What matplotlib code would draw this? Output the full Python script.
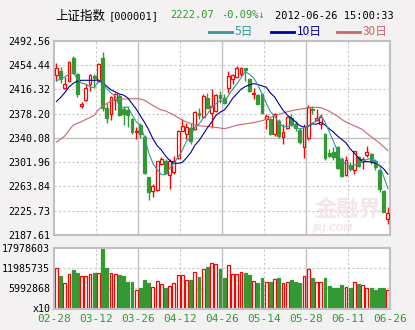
"""上证指数 daily K-line with 5/10/30 day averages and volume"""

import matplotlib
matplotlib.use("Agg")
import matplotlib.pyplot as plt
from matplotlib.patches import Rectangle

plt.rcParams["font.family"] = ["DejaVu Sans Mono", "Noto Sans CJK SC"]

dates = [
    "02-28", "02-29", "03-01", "03-02", "03-05", "03-06", "03-07", "03-08", "03-09", "03-12",
    "03-13", "03-14", "03-15", "03-16", "03-19", "03-20", "03-21", "03-22", "03-23", "03-26",
    "03-27", "03-28", "03-29", "03-30", "04-05", "04-06", "04-09", "04-10", "04-11", "04-12",
    "04-13", "04-16", "04-17", "04-18", "04-19", "04-20", "04-23", "04-24", "04-25", "04-26",
    "04-27", "05-02", "05-03", "05-04", "05-07", "05-08", "05-09", "05-10", "05-11", "05-14",
    "05-15", "05-16", "05-17", "05-18", "05-21", "05-22", "05-23", "05-24", "05-25", "05-28",
    "05-29", "05-30", "05-31", "06-01", "06-04", "06-05", "06-06", "06-07", "06-08", "06-11",
    "06-12", "06-13", "06-14", "06-15", "06-18", "06-19", "06-20", "06-21", "06-25", "06-26",
]

opens = [
    2438.8, 2445.0, 2417.9, 2429.4, 2464.9, 2439.8, 2390.2, 2399.1, 2424.2, 2437.2,
    2429.4, 2464.9, 2387.6, 2378.2, 2399.1, 2405.9, 2385.0, 2384.0, 2369.4, 2348.5,
    2360.5, 2341.7, 2278.0, 2256.1, 2258.2, 2298.9, 2303.0, 2282.2, 2285.8, 2308.3,
    2351.1, 2345.9, 2356.3, 2353.7, 2379.8, 2373.0, 2403.3, 2379.8, 2382.4, 2407.4,
    2402.2, 2418.9, 2432.0, 2435.6, 2440.9, 2449.2, 2432.0, 2408.5, 2407.4, 2408.5,
    2369.4, 2369.4, 2345.9, 2366.8, 2342.2, 2355.2, 2370.9, 2362.6, 2352.1, 2326.0,
    2340.0, 2386.1, 2368.0, 2362.0, 2346.9, 2315.6, 2317.2, 2325.0, 2306.7, 2282.2,
    2297.8, 2289.5, 2309.3, 2303.0, 2313.5, 2314.5, 2303.0, 2289.5, 2256.0, 2213.0,
]
highs = [
    2458.1, 2451.3, 2435.6, 2460.2, 2468.5, 2442.4, 2397.0, 2424.2, 2439.8, 2439.8,
    2458.1, 2475.3, 2395.4, 2405.9, 2411.1, 2409.5, 2390.2, 2390.2, 2372.0, 2357.3,
    2364.1, 2344.8, 2279.0, 2267.6, 2304.1, 2310.4, 2306.7, 2306.7, 2311.9, 2352.1,
    2369.4, 2364.1, 2364.1, 2382.4, 2387.6, 2408.5, 2411.1, 2416.3, 2409.5, 2413.7,
    2408.5, 2445.0, 2440.9, 2452.9, 2451.3, 2450.3, 2434.6, 2418.9, 2409.5, 2411.1,
    2377.2, 2371.0, 2379.8, 2369.4, 2361.5, 2374.6, 2377.2, 2366.8, 2356.3, 2362.6,
    2391.2, 2390.2, 2385.0, 2378.0, 2348.0, 2322.4, 2325.0, 2327.6, 2309.3, 2311.9,
    2301.5, 2319.8, 2311.0, 2309.3, 2327.6, 2316.0, 2306.7, 2291.0, 2258.0, 2232.1,
]
lows = [
    2429.4, 2426.8, 2416.3, 2428.3, 2439.8, 2404.3, 2386.6, 2398.1, 2413.7, 2417.9,
    2428.3, 2382.4, 2364.1, 2367.8, 2383.4, 2374.6, 2360.5, 2357.3, 2346.9, 2338.0,
    2340.6, 2283.2, 2242.5, 2247.7, 2257.1, 2297.8, 2283.2, 2259.7, 2284.0, 2306.7,
    2350.2, 2338.0, 2330.2, 2352.1, 2369.4, 2372.0, 2386.6, 2356.3, 2381.4, 2395.4,
    2393.9, 2411.1, 2425.2, 2434.6, 2437.2, 2429.4, 2412.6, 2400.7, 2392.8, 2378.2,
    2353.7, 2344.8, 2343.2, 2340.6, 2330.2, 2353.7, 2358.9, 2351.1, 2331.2, 2308.3,
    2336.0, 2377.2, 2366.0, 2354.0, 2306.0, 2309.3, 2305.0, 2291.0, 2278.0, 2280.6,
    2288.0, 2283.2, 2294.0, 2291.0, 2309.3, 2299.0, 2290.0, 2254.5, 2223.0, 2205.0,
]
closes = [
    2449.2, 2433.0, 2425.2, 2459.1, 2442.4, 2408.5, 2393.9, 2418.9, 2438.8, 2433.6,
    2455.5, 2387.6, 2372.0, 2404.3, 2408.5, 2375.6, 2377.2, 2376.1, 2348.5, 2351.1,
    2345.9, 2284.3, 2254.5, 2263.9, 2303.0, 2306.7, 2284.3, 2304.1, 2303.0, 2351.1,
    2358.9, 2357.3, 2335.4, 2381.4, 2376.1, 2405.9, 2387.6, 2390.2, 2407.4, 2402.2,
    2395.4, 2437.2, 2438.8, 2450.3, 2449.2, 2447.1, 2413.7, 2411.1, 2393.9, 2379.8,
    2374.6, 2345.9, 2377.2, 2343.2, 2348.5, 2373.0, 2361.5, 2355.2, 2332.8, 2357.0,
    2388.0, 2383.4, 2372.0, 2373.4, 2308.6, 2312.0, 2309.3, 2292.6, 2280.6, 2305.2,
    2291.0, 2318.7, 2296.3, 2306.7, 2317.2, 2301.5, 2293.7, 2260.0, 2224.1, 2222.07,
]
volumes = [
    12020000, 9730000, 7550000, 10230000, 11520000, 10630000, 9630000, 9630000, 10230000, 10630000,
    10530000, 17978603, 12120000, 10530000, 10230000, 10030000, 9730000, 7950000, 7950000, 5460000,
    6160000, 8540000, 7650000, 6360000, 8150000, 7250000, 6160000, 6660000, 7550000, 9930000,
    9930000, 8440000, 8540000, 10830000, 9440000, 11820000, 12420000, 13510000, 13210000, 11820000,
    9140000, 12910000, 10230000, 10230000, 10830000, 10630000, 10030000, 8150000, 7650000, 9140000,
    7950000, 7950000, 8740000, 9140000, 7550000, 7850000, 8540000, 7950000, 7650000, 9630000,
    11720000, 9140000, 7850000, 7850000, 9140000, 6750000, 6160000, 6160000, 7050000, 6360000,
    6160000, 7850000, 7350000, 6950000, 6060000, 6160000, 5560000, 6160000, 6160000, 5460000,
]
ma5 = [
    2429.5, 2432.5, 2435.5, 2440.5, 2441.8, 2433.6, 2425.8, 2424.6, 2420.5, 2418.7,
    2428.1, 2426.9, 2417.5, 2410.6, 2405.6, 2389.6, 2387.5, 2388.3, 2377.2, 2365.7,
    2359.8, 2341.2, 2316.9, 2299.9, 2290.3, 2282.5, 2282.5, 2292.4, 2300.2, 2309.8,
    2320.3, 2334.9, 2341.1, 2356.8, 2361.8, 2371.2, 2377.3, 2388.2, 2393.4, 2398.7,
    2396.6, 2406.5, 2416.2, 2424.8, 2434.2, 2444.5, 2439.8, 2434.3, 2423.0, 2409.1,
    2394.6, 2381.1, 2374.3, 2364.1, 2357.9, 2357.6, 2360.7, 2356.3, 2354.2, 2355.9,
    2358.9, 2363.3, 2366.6, 2374.8, 2365.1, 2349.9, 2335.1, 2319.2, 2300.6, 2299.9,
    2295.7, 2297.6, 2298.4, 2303.6, 2306.0, 2308.1, 2303.1, 2295.8, 2279.3, 2260.3,
]
ma10 = [
    2397.0, 2403.3, 2411.1, 2420.0, 2425.7, 2429.0, 2430.4, 2430.4, 2430.4, 2430.3,
    2430.9, 2426.4, 2421.0, 2415.6, 2412.2, 2408.9, 2407.2, 2402.9, 2393.9, 2385.6,
    2374.7, 2364.4, 2352.6, 2338.6, 2328.0, 2321.1, 2311.8, 2304.6, 2300.1, 2300.1,
    2301.4, 2308.7, 2316.8, 2328.5, 2335.8, 2345.8, 2356.1, 2364.7, 2375.1, 2380.2,
    2383.9, 2391.9, 2402.2, 2409.1, 2416.4, 2420.5, 2423.2, 2425.2, 2423.9, 2421.7,
    2419.6, 2410.4, 2404.3, 2393.6, 2383.5, 2376.1, 2370.9, 2365.3, 2359.2, 2356.9,
    2358.2, 2362.0, 2361.5, 2364.5, 2360.5, 2354.4, 2349.2, 2342.9, 2337.7, 2332.5,
    2322.8, 2316.3, 2308.8, 2302.1, 2303.0, 2301.9, 2300.4, 2297.1, 2291.4, 2283.1,
]
ma30 = [
    2333.5, 2338.0, 2343.0, 2352.0, 2360.0, 2363.0, 2365.5, 2369.0, 2372.0, 2375.6,
    2384.0, 2390.0, 2394.0, 2398.0, 2400.0, 2400.6, 2401.0, 2401.0, 2401.5, 2401.5,
    2401.0, 2399.0, 2395.0, 2391.0, 2387.0, 2384.0, 2382.5, 2379.0, 2376.0, 2372.0,
    2368.0, 2365.0, 2362.6, 2360.5, 2359.0, 2358.5, 2358.0, 2357.3, 2356.5, 2355.5,
    2354.5, 2356.0, 2358.0, 2360.0, 2361.0, 2362.0, 2363.0, 2364.0, 2365.5, 2367.0,
    2369.0, 2372.0, 2375.0, 2377.0, 2379.0, 2381.0, 2382.5, 2384.0, 2385.0, 2386.0,
    2387.0, 2388.0, 2388.0, 2387.5, 2385.0, 2382.0, 2378.0, 2374.0, 2369.0, 2365.0,
    2362.0, 2359.0, 2356.0, 2353.0, 2347.0, 2342.0, 2337.0, 2332.0, 2326.0, 2320.0,
]

price_ticks = [2187.61, 2225.73, 2263.84, 2301.96, 2340.08, 2378.20, 2416.32, 2454.44, 2492.56]
volume_ticks = [0, 5992868, 11985735, 17978603]
volume_labels = ["x10", "5992868", "11985735", "17978603"]
date_ticks = [0, 9, 19, 29, 39, 49, 59, 69, 79]

RED = "#ff0000"
GREEN = "#339933"
GRID = "#c8c8c8"
FRAME = "#c0c0c0"
BG = "#f3f1f1"
W, H = 415, 330

fig = plt.figure(figsize=(W / 100, H / 100), dpi=100, facecolor=BG)
ax = fig.add_axes([54.3 / W, 1 - 235 / H, 335.7 / W, 194.3 / H])
vax = fig.add_axes([54.3 / W, 1 - 308.5 / H, 335.7 / W, 60.2 / H])

n = len(closes)
for a in (ax, vax):
    a.set_facecolor("white")
    a.set_xlim(-0.5, n - 0.5)
    for s in a.spines.values():
        s.set_color(FRAME)
        s.set_linewidth(1.5)
    a.tick_params(length=0, labelsize=7.2)
    # vertical grid: solid every 20 days, dashed in between
    for k, d in enumerate(date_ticks[1:-1]):
        if k % 2:
            a.axvline(d + 0.5, color=FRAME, lw=1.0, zorder=0)
        else:
            a.axvline(d + 0.5, color=GRID, lw=0.8, ls=(0, (2, 2)), zorder=0)

# price panel
ax.set_ylim(price_ticks[0], price_ticks[-1])
ax.set_yticks(price_ticks)
ax.set_yticklabels([f"{v:.2f}" for v in price_ticks])
ax.tick_params(axis="y", pad=3)
ax.set_xticks([])
for k, v in enumerate(price_ticks[1:-1]):
    if k == 3:
        ax.axhline(v, color=FRAME, lw=1.0, zorder=0)
    else:
        ax.axhline(v, color=GRID, lw=0.8, ls=(0, (2, 2)), zorder=0)

ax.text(0.975, 0.075, "金融界", transform=ax.transAxes, ha="right", va="bottom",
        fontsize=16, fontweight="bold", color="#f4e6e6", family=["Noto Sans CJK SC"], zorder=1)
ax.text(0.77, 0.012, "JRJ.COM", transform=ax.transAxes, ha="left", va="bottom",
        fontsize=6.5, fontweight="bold", style="italic", color="#f4e6e6",
        family=["DejaVu Sans"], zorder=1)

for i in range(n):
    o, h, l, c = opens[i], highs[i], lows[i], closes[i]
    up = c >= o
    color = RED if up else GREEN
    lo, hi = min(o, c), max(o, c)
    ax.vlines(i, l, h, color=color, lw=1.0, zorder=2)
    ax.add_patch(Rectangle((i - 0.34, lo), 0.68, max(hi - lo, 1.2),
                           facecolor="white" if up else color, edgecolor=color,
                           lw=0.9, zorder=3))

x = range(n)
ax.plot(x, ma30, color="#cc6666", lw=0.8, zorder=4)
ax.plot(x, ma10, color="#000099", lw=0.8, zorder=4)
ax.plot(x, ma5, color="#339999", lw=0.8, zorder=4)

# volume panel
ups = [c >= o for o, c in zip(opens, closes)]
vax.bar(x, volumes, width=0.68,
        color=["white" if u else GREEN for u in ups],
        edgecolor=[RED if u else GREEN for u in ups], linewidth=0.9, zorder=2)
vax.set_ylim(0, volume_ticks[-1])
vax.set_yticks(volume_ticks)
vax.set_yticklabels(volume_labels)
vax.tick_params(axis="y", pad=3)
for v in volume_ticks[1:-1]:
    vax.axhline(v, color=GRID, lw=0.8, ls=(0, (2, 2)), zorder=0)
tick_pos = [-0.5] + [d + 0.5 for d in date_ticks[1:]]
vax.set_xticks(tick_pos)
vax.set_xticklabels([dates[d] for d in date_ticks], color=GREEN, fontsize=8)
vax.tick_params(axis="x", pad=4)

# header
fig.text(55 / W, 1 - 16 / H, "上证指数", fontsize=9, family=["Noto Sans CJK SC"], va="center")
fig.text(109 / W, 1 - 16 / H, "[000001]", fontsize=7.5, va="center")
fig.text(170 / W, 1 - 15 / H, "2222.07", fontsize=7.5, color=GREEN, va="center")
fig.text(221 / W, 1 - 15 / H, "-0.09%↓", fontsize=7.5, color=GREEN, va="center")
fig.text(275 / W, 1 - 16 / H, "2012-06-26 15:00:33", fontsize=7.5, va="center")

legend = [("5日", "#339999", 209), ("10日", "#000099", 271), ("30日", "#cc6666", 337)]
for label, color, x0 in legend:
    fig.add_artist(plt.Line2D([x0 / W, (x0 + 23) / W], [1 - 32 / H] * 2, color=color, lw=2))
    fig.text((x0 + 26) / W, 1 - 32 / H, label, fontsize=8.5, color=color,
             family=["Noto Sans CJK SC"], va="center")

fig.savefig("out.png", dpi=100, facecolor=BG)
